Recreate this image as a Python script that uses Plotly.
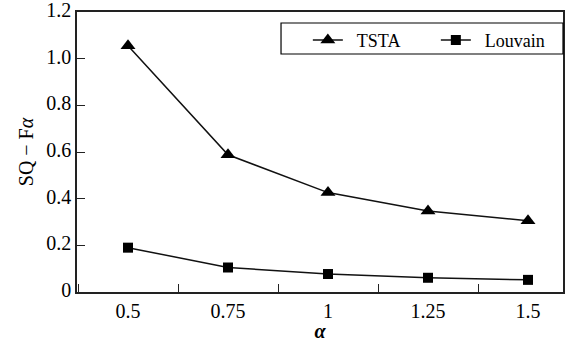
import plotly.graph_objects as go

alpha = [0.5, 0.75, 1.0, 1.25, 1.5]
alpha_labels = ["0.5", "0.75", "1", "1.25", "1.5"]
tsta = [1.055, 0.588, 0.426, 0.347, 0.305]
louvain = [0.19, 0.105, 0.077, 0.061, 0.052]
y_ticks = [0, 0.2, 0.4, 0.6, 0.8, 1.0, 1.2]
y_labels = ["0", "0.2", "0.4", "0.6", "0.8", "1.0", "1.2"]
series_names = ["TSTA", "Louvain"]

font = "Liberation Serif, Times New Roman, serif"
axis_col = "#222"
pad = "\u00a0\u00a0"

fig = go.Figure()
fig.add_trace(go.Scatter(x=alpha, y=tsta, name=pad + series_names[0], mode="lines+markers",
                         line=dict(color="#111", width=1.5),
                         marker=dict(symbol="triangle-up", size=13, color="black")))
fig.add_trace(go.Scatter(x=alpha, y=louvain, name=pad + series_names[1], mode="lines+markers",
                         line=dict(color="#111", width=1.5),
                         marker=dict(symbol="square", size=10, color="black")))

# legend frame (px: x 281..563, y 23..54 -> paper coords of the plot area)
fig.add_shape(type="rect", xref="paper", yref="paper",
              x0=0.4198, x1=1.0, y0=0.85, y1=0.9607,
              line=dict(color="black", width=1.2), fillcolor="rgba(0,0,0,0)",
              layer="above")

fig.update_layout(
    width=570, height=342,
    margin=dict(l=77, r=7, t=12, b=50, autoexpand=False),
    paper_bgcolor="white", plot_bgcolor="white",
    font=dict(family=font, size=20, color="black"),
    showlegend=True,
    legend=dict(orientation="h", x=0.475, y=0.965, xanchor="left", yanchor="top",
                borderwidth=0, bgcolor="rgba(0,0,0,0)",
                font=dict(size=18), entrywidth=83,
                tracegroupgap=0),
    xaxis=dict(range=[0.3725, 1.5875], tickvals=alpha, ticktext=alpha_labels,
               ticks="", showgrid=False, zeroline=False, automargin=False,
               showline=True, linecolor=axis_col, linewidth=1.5, mirror=True,
               ticklabeloverflow="allow",
               minor=dict(ticks="inside", tick0=0.625, dtick=0.25, ticklen=8,
                          tickcolor=axis_col, showgrid=False),
               title=dict(text="<b><i>α</i></b>", standoff=2, font=dict(size=20)),
               tickfont=dict(size=20)),
    yaxis=dict(range=[0, 1.2], tickvals=y_ticks, ticktext=y_labels,
               ticks="inside", ticklen=8, tickcolor=axis_col, automargin=False,
               showgrid=False, zeroline=False, ticklabeloverflow="allow",
               ticklabelshift=-2,
               showline=True, linecolor=axis_col, linewidth=1.5, mirror=True,
               title=dict(text="SQ − F<i>α</i>", standoff=7, font=dict(size=20)),
               tickfont=dict(size=20)),
)

fig.write_html("out.html", config={"displayModeBar": False},
               post_script="document.body.style.margin='0';document.body.style.overflow='hidden';")
